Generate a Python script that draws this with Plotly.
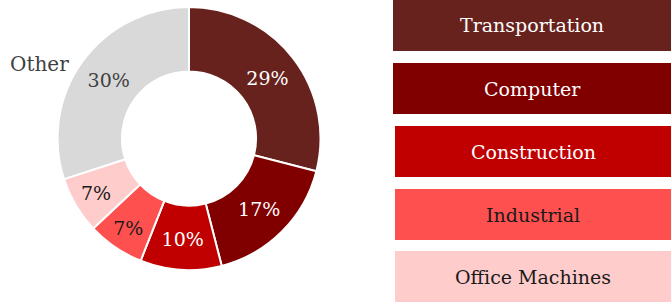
import plotly.graph_objects as go

categories = ["Transportation", "Computer", "Construction", "Industrial", "Office Machines", "Other"]
values = [29, 17, 10, 7, 7, 30]
colors = ["#68221D", "#800000", "#C00000", "#FF5050", "#FFCCCC", "#D9D9D9"]
text_colors = ["#FFFFFF", "#FFFFFF", "#FFFFFF", "#1A1A1A", "#1A1A1A", "#404040"]
legend_names = categories[:5]
legend_text_colors = ["#FFFFFF", "#FFFFFF", "#FFFFFF", "#1A1A1A", "#1A1A1A"]

W, H = 671, 304
FONT = "DejaVu Serif, Liberation Serif, serif"

fig = go.Figure()
fig.add_trace(go.Pie(
    labels=categories, values=values, sort=False, direction="clockwise", rotation=0,
    hole=0.51,
    marker=dict(colors=colors, line=dict(color="white", width=2)),
    texttemplate="%{percent:.0%}", textposition="inside",
    insidetextorientation="horizontal",
    insidetextfont=dict(family=FONT, size=19, color=text_colors),
    domain=dict(x=[57 / W, 321 / W], y=[1 - 270 / H, 1 - 7 / H]),
    showlegend=False, hoverinfo="label+percent",
))

shapes = []
annotations = []
pitch = 63
box_h = 51
for i, (name, col, tc) in enumerate(zip(legend_names, colors, legend_text_colors)):
    top = i * pitch - (1 if i == 4 else 0)
    bot = min(top + box_h, H)
    x0 = 393 if i < 2 else 395
    shapes.append(dict(type="rect", xref="paper", yref="paper",
                       x0=x0 / W, x1=1, y0=1 - bot / H, y1=1 - top / H,
                       fillcolor=col, line=dict(width=0), layer="below"))
    annotations.append(dict(x=(x0 + W) / 2 / W, y=1 - (top + bot) / 2 / H,
                            xref="paper", yref="paper", text=name, showarrow=False,
                            xanchor="center", yanchor="middle",
                            font=dict(family=FONT, size=19, color=tc)))

annotations.append(dict(x=8 / W, y=1 - 64 / H, xref="paper", yref="paper", text="Other",
                        showarrow=False, xanchor="left", yanchor="middle",
                        font=dict(family=FONT, size=20, color="#404040")))

fig.update_layout(width=W, height=H, margin=dict(l=0, r=0, t=0, b=0),
                  paper_bgcolor="white", plot_bgcolor="white",
                  shapes=shapes, annotations=annotations)
fig.write_html("out.html", config={"displayModeBar": False},
               post_script="document.body.style.margin='0';document.body.style.overflow='hidden';")
